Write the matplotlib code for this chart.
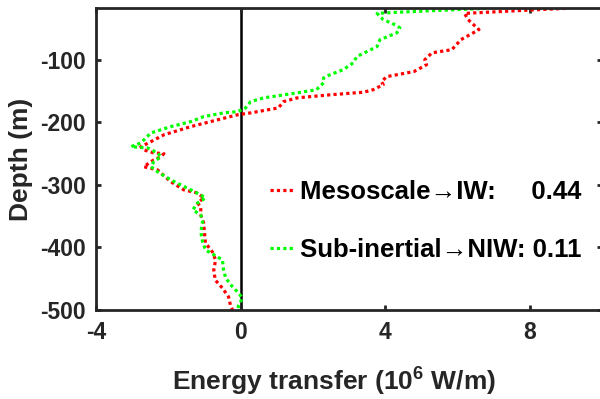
import numpy as np
import matplotlib
matplotlib.use('Agg')
import matplotlib.pyplot as plt

# *****************************************************************************

# Mesoscale -> internal waves
MESO_VAL = [9.0, 7.9, 6.2, 6.3, 6.6, 6.1, 5.85, 5.3, 5.1, 5.15, 4.8, 4.05,
            3.9, 3.95, 3.67, 3.4, 2.5, 1.57, 1.19, 1.05, 0.28, -0.08, -0.63,
            -1.38, -2.12, -2.48, -2.76, -2.68, -2.4, -2.12, -2.2, -2.4, -2.68,
            -2.3, -1.93, -1.57, -1.19, -1.02, -1.19, -1.1, -1.1, -1.02, -1.0,
            -0.97, -0.78, -0.69, -0.74, -0.7, -0.5, -0.33, -0.28, -0.22]
MESO_DEP = [-18, -21, -26, -36, -52, -68, -84, -89, -100, -108, -119, -127,
            -135, -140, -148, -152, -156, -161, -167, -177, -185, -188, -196,
            -207, -220, -231, -239, -244, -249, -250, -255, -260, -271,
            -276, -295, -308, -313, -321, -329, -335, -348, -361, -375,
            -393, -407, -420, -436, -452, -465, -479, -492, -500]

# Sub-inertial -> near-inertial waves
SUBI_VAL = [6.8, 4.4, 3.78, 3.95, 4.2, 4.41, 4.33, 3.86, 3.78, 3.5, 3.22,
            3.12, 2.84, 2.48, 2.3, 2.3, 2.1, 1.57, 0.64, 0.28, 0.14, -0.08,
            -0.47, -1.02, -1.38, -1.93, -2.48, -2.76, -3.03, -2.57, -2.3,
            -2.2, -2.4, -2.48, -2.3, -1.93, -1.38, -1.1, -0.97, -1.19, -1.32,
            -1.1, -1.05, -1.1, -1.05, -0.97, -0.64, -0.5, -0.47, -0.41,
            -0.22, -0.05, 0.05, -0.05, -0.08]
SUBI_DEP = [-18, -24, -26, -36, -42, -49, -57, -68, -79, -87, -95,
            -105, -116, -124, -129, -137, -148, -153, -161, -167, -177, -183,
            -185, -191, -199, -207, -217, -233, -239, -241, -249,
            -255, -263, -271, -279, -292, -308, -316, -321, -329, -340,
            -348, -359, -375, -391, -404, -415, -420, -436, -449,
            -463, -473, -481, -492, -500]

LABELS = ['Mesoscale\u2192IW:     0.44', 'Sub-inertial\u2192NIW: 0.11']
X_TICKS = [-4, 0, 4, 8]
Y_TICKS = [-500, -400, -300, -200, -100]

# *****************************************************************************


def make_fig():

    plt.rcParams['font.family'] = ['Liberation Sans', 'DejaVu Sans']
    plt.rcParams['font.weight'] = 'bold'
    plt.rcParams['axes.unicode_minus'] = False
    plt.rcParams['mathtext.fontset'] = 'custom'
    plt.rcParams['mathtext.rm'] = 'Liberation Sans:bold'
    plt.rcParams['mathtext.default'] = 'rm'

    fig01 = plt.figure(figsize=(6.0, 3.99), dpi=100)
    axs01 = fig01.add_axes([0.16, 0.223, 0.843, 0.756])

    axs01.plot(MESO_VAL, MESO_DEP, color='#ff0000', lw=2.3,
               dashes=(1, 1), dash_capstyle='butt', label=LABELS[0])
    axs01.plot(SUBI_VAL, SUBI_DEP, color='#00ff00', lw=2.3,
               dashes=(1, 1), dash_capstyle='butt', label=LABELS[1])
    axs01.axvline(0, color='k', lw=1.8, zorder=1)

    axs01.set_xlim(-4, 10)
    axs01.set_ylim(-500, -18)
    axs01.set_xticks(X_TICKS)
    axs01.set_yticks(Y_TICKS)

    for spine in axs01.spines.values():
        spine.set_linewidth(2.0)
        spine.set_color('#262626')
    axs01.tick_params(direction='in', length=3.5, width=2.0,
                      top=True, right=True, colors='#262626',
                      labelsize=16.5)
    axs01.tick_params(axis='x', pad=8)
    axs01.tick_params(axis='y', pad=7.5)

    axs01.set_xlabel('Energy transfer (10$^{6}$ W/m)', fontsize=19,
                     fontweight='bold', color='#262626')
    axs01.set_ylabel('Depth (m)', fontsize=19, fontweight='bold',
                     color='#262626')
    axs01.xaxis.set_label_coords(0.47, -0.186)
    axs01.yaxis.set_label_coords(-0.125, 0.5)

    leg = axs01.legend(loc='center left', bbox_to_anchor=(0.344, 0.295),
                       frameon=False, fontsize=18.5, handlelength=0.9,
                       handletextpad=0.27, labelspacing=1.3,
                       borderpad=0.0, borderaxespad=0.0)
    for txt in leg.get_texts():
        txt.set_fontweight('bold')

    plt.savefig('out.png', dpi=100)
    plt.close()

    return None

# *****************************************************************************


if (__name__ == "__main__"):

    make_fig()

# *****************************************************************************
